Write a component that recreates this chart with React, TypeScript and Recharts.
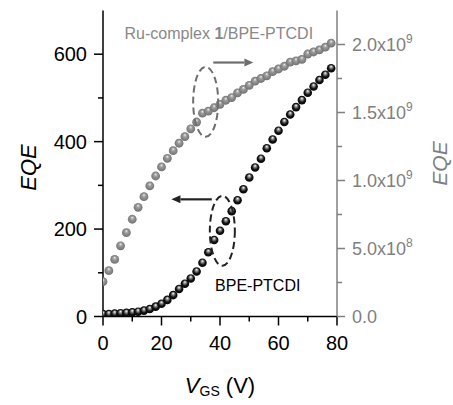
import { ComposedChart, Line, XAxis, YAxis, ReferenceDot, ReferenceLine } from 'recharts';

// V_GS (V)
const vgs = [0, 2, 4, 6, 8, 10, 12, 14, 16, 18, 20, 22, 24, 26, 28, 30, 32, 34, 36, 38, 40, 42, 44, 46, 48, 50, 52, 54, 56, 58, 60, 62, 64, 66, 68, 70, 72, 74, 76, 78];
// BPE-PTCDI, left axis
const eqeBpe = [5.5, 5.7, 6.6, 7.6, 8.3, 9.5, 11, 13.5, 17, 22.5, 29, 38, 49, 63, 75, 87, 103, 123, 147, 175, 196, 218, 241, 266, 291, 318, 341, 361, 385, 405, 425, 445, 462, 479, 495, 512, 526, 541, 553, 568];
// Ru-complex 1/BPE-PTCDI, right axis, in units of 1e9
const eqeRu = [0.256, 0.337, 0.42, 0.52, 0.616, 0.715, 0.803, 0.881, 0.96, 1.033, 1.1, 1.163, 1.219, 1.274, 1.322, 1.38, 1.43, 1.495, 1.51, 1.535, 1.56, 1.59, 1.61, 1.645, 1.67, 1.7, 1.73, 1.75, 1.77, 1.8, 1.82, 1.84, 1.87, 1.88, 1.89, 1.93, 1.945, 1.96, 1.98, 2.01];

const xTicks = [0, 10, 20, 30, 40, 50, 60, 70, 80];
const leftTicks = [0, 100, 200, 300, 400, 500, 600];
const rightTicks = [0, 2.5e8, 5e8, 7.5e8, 1e9, 1.25e9, 1.5e9, 1.75e9, 2e9];

const data = vgs.map((v, i) => ({ v, bpe: eqeBpe[i], ru: eqeRu[i] * 1e9 }));

const FONT = '"Liberation Sans", Arial, Helvetica, sans-serif';
const GRAY = '#7f7f7f';

function LeftTick({ x, y, payload }: any) {
  const major = payload.value % 200 === 0;
  return (
    <g>
      <line x1={x} x2={x - (major ? 9 : 5)} y1={y} y2={y} stroke="#000" strokeWidth={1.5} />
      {major && (
        <text x={x - 16} y={y} textAnchor="end" dominantBaseline="central" fontSize={20} fill="#000" fontFamily={FONT}>
          {payload.value}
        </text>
      )}
    </g>
  );
}

function BottomTick({ x, y, payload }: any) {
  const major = payload.value % 20 === 0;
  return (
    <g>
      <line x1={x} x2={x} y1={y} y2={y + (major ? 9 : 5)} stroke="#000" strokeWidth={1.5} />
      {major && (
        <text x={x} y={y + 26} textAnchor="middle" dominantBaseline="central" fontSize={20} fill="#000" fontFamily={FONT}>
          {payload.value}
        </text>
      )}
    </g>
  );
}

function TopTick({ x, y, payload }: any) {
  const major = payload.value % 20 === 0;
  return <line x1={x} x2={x} y1={y} y2={y + (major ? 8 : 5)} stroke="#000" strokeWidth={1.5} />;
}

function RightTick({ x, y, payload }: any) {
  const v = payload.value;
  const major = v % 5e8 === 0;
  let label: any = null;
  if (major) {
    if (v === 0) label = '0.0';
    else if (v < 1e9) label = (<>{(v / 1e8).toFixed(1)}x10<tspan dy={-8} fontSize={12}>8</tspan></>);
    else label = (<>{(v / 1e9).toFixed(1)}x10<tspan dy={-8} fontSize={12}>9</tspan></>);
  }
  return (
    <g>
      <line x1={x} x2={x + (major ? 8 : 5)} y1={y} y2={y} stroke={GRAY} strokeWidth={1.5} />
      {major && (
        <text x={x + 15} y={y + 6} textAnchor="start" fontSize={18} fill={GRAY} fontFamily={FONT}>
          {label}
        </text>
      )}
    </g>
  );
}

function LeftTitle({ viewBox }: any) {
  const cx = viewBox.x + 28;
  const cy = viewBox.y + viewBox.height / 2 + 4;
  return (
    <text x={cx} y={cy} transform={`rotate(-90 ${cx} ${cy})`} textAnchor="middle" dominantBaseline="central" fontSize={22} fontStyle="italic" fill="#000" fontFamily={FONT}>
      EQE
    </text>
  );
}

function RightTitle({ viewBox }: any) {
  const cx = viewBox.x + 102;
  const cy = viewBox.y + viewBox.height / 2;
  return (
    <text x={cx} y={cy} transform={`rotate(-90 ${cx} ${cy})`} textAnchor="middle" dominantBaseline="central" fontSize={21} fontStyle="italic" fill={GRAY} fontFamily={FONT}>
      EQE
    </text>
  );
}

function BottomTitle({ viewBox }: any) {
  const cx = viewBox.x + viewBox.width / 2;
  const cy = viewBox.y + 68;
  return (
    <text x={cx} y={cy} textAnchor="middle" dominantBaseline="central" fontSize={22} fill="#000" fontFamily={FONT}>
      <tspan fontStyle="italic">V</tspan>
      <tspan fontSize={14} dy={6}>GS</tspan>
      <tspan dy={-6}> (V)</tspan>
    </text>
  );
}

const blackDot = (p: any) => <circle key={`b${p.index}`} cx={p.cx} cy={p.cy} r={4.3} fill="url(#ballBlack)" />;
const grayDot = (p: any) => <circle key={`g${p.index}`} cx={p.cx} cy={p.cy} r={4.4} fill="url(#ballGray)" />;

function arrow(color: string) {
  return (p: any) => {
    const dir = p.x2 > p.x1 ? 1 : -1;
    const tipX = p.x2;
    const baseX = tipX - dir * 9;
    return (
      <g>
        <line x1={p.x1} y1={p.y1} x2={baseX} y2={p.y2} stroke={color} strokeWidth={2.2} />
        <path d={`M${tipX},${p.y2} L${baseX},${p.y2 - 4} L${baseX},${p.y2 + 4} Z`} fill={color} />
      </g>
    );
  };
}

function ellipse(color: string) {
  return (p: any) => (
    <ellipse cx={p.cx} cy={p.cy} rx={12.5} ry={35} fill="none" stroke={color} strokeWidth={2} strokeDasharray="7 4" />
  );
}

export default function App() {
  return (
    <div style={{ position: 'absolute', left: 0, top: 0, background: '#fff' }}>
      <ComposedChart width={453} height={405} data={data} margin={{ top: 10.5, right: 0, bottom: 0, left: 0 }}>
        <defs>
          <radialGradient id="ballBlack" cx="50%" cy="50%" r="55%" fx="50%" fy="28%">
            <stop offset="0%" stopColor="#ffffff" />
            <stop offset="28%" stopColor="#8a8a8a" />
            <stop offset="60%" stopColor="#151515" />
            <stop offset="100%" stopColor="#000000" />
          </radialGradient>
          <radialGradient id="ballGray" cx="50%" cy="50%" r="55%" fx="50%" fy="28%">
            <stop offset="0%" stopColor="#eeeeee" />
            <stop offset="35%" stopColor="#9c9c9c" />
            <stop offset="100%" stopColor="#6c6c6c" />
          </radialGradient>
        </defs>
        <XAxis
          xAxisId="bottom"
          dataKey="v"
          type="number"
          domain={[0, 80]}
          ticks={xTicks}
          interval={0}
          allowDataOverflow
          height={88.5}
          tickSize={0}
          tickMargin={0}
          tickLine={false}
          axisLine={{ stroke: '#000', strokeWidth: 1.5 }}
          tick={<BottomTick />}
          label={<BottomTitle />}
        />
        <XAxis
          xAxisId="top"
          orientation="top"
          dataKey="v"
          type="number"
          domain={[0, 80]}
          ticks={xTicks}
          interval={0}
          height={0}
          tickSize={0}
          tickMargin={0}
          tickLine={false}
          axisLine={{ stroke: '#000', strokeWidth: 1.5 }}
          tick={<TopTick />}
        />
        <YAxis
          yAxisId="left"
          type="number"
          domain={[0, 700]}
          ticks={leftTicks}
          interval={0}
          allowDataOverflow
          width={103}
          tickSize={0}
          tickMargin={0}
          tickLine={false}
          axisLine={{ stroke: '#000', strokeWidth: 1.5 }}
          tick={<LeftTick />}
          label={<LeftTitle />}
        />
        <YAxis
          yAxisId="right"
          orientation="right"
          type="number"
          domain={[0, 2.25e9]}
          ticks={rightTicks}
          interval={0}
          allowDataOverflow
          width={116}
          tickSize={0}
          tickMargin={0}
          tickLine={false}
          axisLine={{ stroke: GRAY, strokeWidth: 1.5 }}
          tick={<RightTick />}
          label={<RightTitle />}
        />
        <Line xAxisId="bottom" yAxisId="right" dataKey="ru" stroke="none" dot={grayDot} activeDot={false} isAnimationActive={false} />
        <Line xAxisId="bottom" yAxisId="left" dataKey="bpe" stroke="none" dot={blackDot} activeDot={false} isAnimationActive={false} />
        <ReferenceDot xAxisId="bottom" yAxisId="left" x={35.1} y={491} r={0} shape={ellipse('#6e6e6e')} />
        <ReferenceDot xAxisId="bottom" yAxisId="left" x={40.8} y={196} r={0} shape={ellipse('#222')} />
        <ReferenceLine
          xAxisId="bottom"
          yAxisId="left"
          segment={[{ x: 37.7, y: 581 }, { x: 51.4, y: 581 }]}
          shape={arrow('#6e6e6e')}
        />
        <ReferenceLine
          xAxisId="bottom"
          yAxisId="left"
          segment={[{ x: 37.2, y: 268 }, { x: 23.4, y: 268 }]}
          shape={arrow('#222')}
        />
        <ReferenceDot
          xAxisId="bottom"
          yAxisId="left"
          x={39.6}
          y={648}
          r={0}
          shape={(p: any) => (
            <text x={p.cx} y={p.cy} textAnchor="middle" dominantBaseline="central" fontSize={16} fill="#888" fontFamily={FONT}>
              Ru-complex <tspan fontWeight="bold">1</tspan>/BPE-PTCDI
            </text>
          )}
        />
        <ReferenceDot
          xAxisId="bottom"
          yAxisId="left"
          x={52.9}
          y={72}
          r={0}
          shape={(p: any) => (
            <text x={p.cx} y={p.cy} textAnchor="middle" dominantBaseline="central" fontSize={16} fill="#000" fontFamily={FONT}>
              BPE-PTCDI
            </text>
          )}
        />
      </ComposedChart>
    </div>
  );
}
